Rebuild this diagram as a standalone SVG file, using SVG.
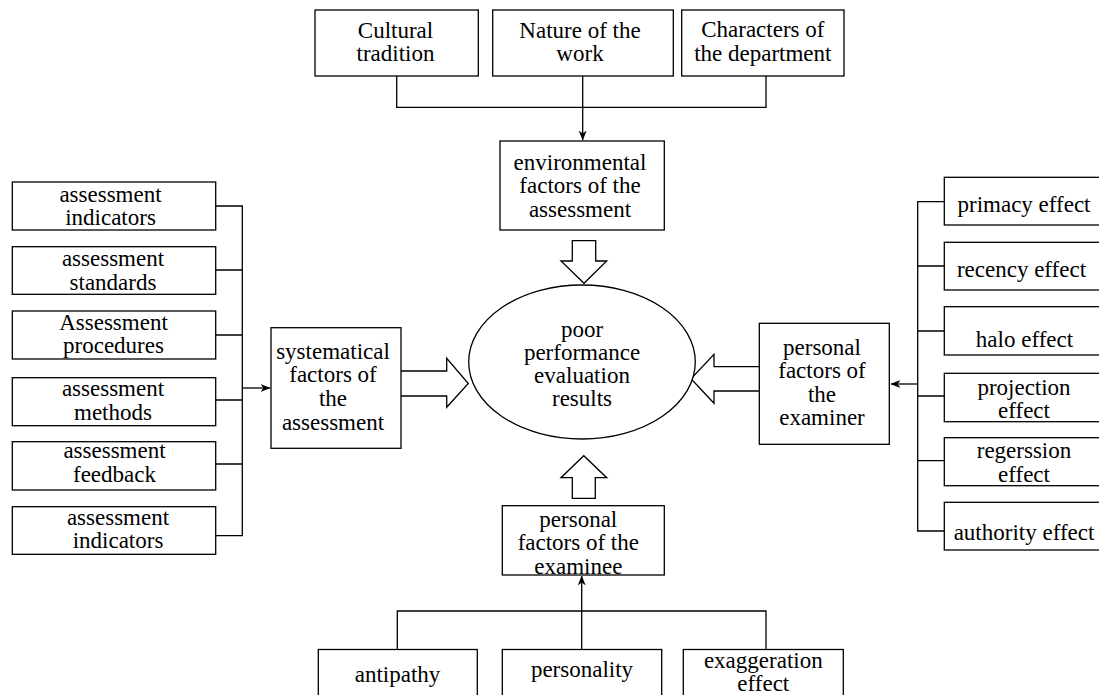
<svg xmlns="http://www.w3.org/2000/svg" width="1099" height="695" viewBox="0 0 1099 695">
<style>
.box{fill:#fff;stroke:#000;stroke-width:1.3}
.ln{fill:none;stroke:#000;stroke-width:1.3}
.blk{fill:#fff;stroke:#000;stroke-width:1.3;stroke-linejoin:miter}
text{font-family:"Liberation Serif","Times New Roman",serif;font-size:23px;fill:#000;text-anchor:middle}
</style>
<defs>
<marker id="ah" viewBox="0 0 10 8" refX="9.5" refY="4" markerWidth="10" markerHeight="8" markerUnits="userSpaceOnUse" orient="auto">
<path d="M0,0 L10,4 L0,8 L3,4 z" fill="#000"/>
</marker>
</defs>
<rect width="1099" height="695" fill="#fff"/>

<g id="connectors">
<path class="ln" d="M396.7,76 V107.3 H766 V76"/>
<path class="ln" d="M582.7,76 V140" marker-end="url(#ah)"/>
<path class="ln" d="M397.3,649.5 V611 H766 V649.5"/>
<path class="ln" d="M581.7,649.5 V576" marker-end="url(#ah)"/>
<path class="ln" d="M215.7,206 H242.3 V535.7 H215.7 M215.7,270 H242.3 M215.7,335 H242.3 M215.7,400 H242.3 M215.7,464 H242.3"/>
<path class="ln" d="M242.3,388 H270" marker-end="url(#ah)"/>
<path class="ln" d="M944.3,201.7 H917.7 V531 H944.3 M944.3,266 H917.7 M944.3,331 H917.7 M944.3,396 H917.7 M944.3,460.7 H917.7"/>
<path class="ln" d="M917.7,384 H891" marker-end="url(#ah)"/>
<path class="blk" d="M401,371 H446.7 V358.3 L468.3,383.5 L446.7,407.3 V396 H401"/>
<path class="blk" d="M759.3,366.7 H714 V354.3 L691,378.8 L714,403.3 V391 H759.3"/>
<path class="blk" d="M572.3,240.7 H595.7 V261 H606.7 L584,283.3 L561,261 H572.3 Z"/>
<path class="blk" d="M572.3,498.3 V477.7 H561 L583.8,455.7 L606.7,477.7 H595.3 V498.3 Z"/>
</g>

<g id="center">
<ellipse class="box" cx="582" cy="362" rx="113.3" ry="77"/>
<text x="582" y="336.5">poor<tspan x="582" dy="23.3">performance</tspan><tspan x="582" dy="23.3">evaluation</tspan><tspan x="582" dy="23.3">results</tspan></text>
</g>

<g id="env">
<rect class="box" x="500" y="141" width="164.3" height="89"/>
<text x="580" y="170">environmental<tspan x="580" dy="23.3">factors of the</tspan><tspan x="580" dy="23.4">assessment</tspan></text>
</g>
<g id="cultural">
<rect class="box" x="315" y="10" width="163.3" height="66"/>
<text x="395.5" y="37.7">Cultural<tspan x="395.5" dy="23.3">tradition</tspan></text>
</g>
<g id="nature">
<rect class="box" x="492.7" y="10" width="180.6" height="66"/>
<text x="580" y="37.7">Nature of the<tspan x="580" dy="23.3">work</tspan></text>
</g>
<g id="characters">
<rect class="box" x="681.7" y="10" width="162.3" height="66"/>
<text x="762.8" y="36.7">Characters of<tspan x="762.8" dy="24.3">the department</tspan></text>
</g>

<g id="examinee">
<rect class="box" x="502.3" y="505.7" width="162" height="69.3"/>
<text x="578.3" y="527">personal<tspan x="578.3" dy="23.3">factors of the</tspan><tspan x="578.3" dy="23.3">examinee</tspan></text>
</g>
<g id="antipathy">
<rect class="box" x="318.3" y="649.5" width="159" height="60"/>
<text x="397.5" y="682">antipathy</text>
</g>
<g id="personality">
<rect class="box" x="502.3" y="649.5" width="159.4" height="60"/>
<text x="582" y="677">personality</text>
</g>
<g id="exaggeration">
<rect class="box" x="683.3" y="649.5" width="160" height="60"/>
<text x="763.3" y="668">exaggeration<tspan x="763.3" dy="23.3">effect</tspan></text>
</g>

<g id="systematical">
<rect class="box" x="271" y="327.7" width="130" height="120.6"/>
<text x="333" y="359">systematical<tspan x="333" dy="23.3">factors of</tspan><tspan x="333" dy="23.3">the</tspan><tspan x="333" dy="24">assessment</tspan></text>
</g>
<g id="l1">
<rect class="box" x="12.3" y="182" width="203.4" height="48"/>
<text x="110.5" y="201.5">assessment<tspan x="110.5" dy="23.3">indicators</tspan></text>
</g>
<g id="l2">
<rect class="box" x="12.3" y="246.7" width="203.4" height="47.6"/>
<text x="113" y="266.3">assessment<tspan x="113" dy="23.3">standards</tspan></text>
</g>
<g id="l3">
<rect class="box" x="12.3" y="311" width="203.4" height="48"/>
<text x="113.5" y="329.5">Assessment<tspan x="113.5" dy="23.3">procedures</tspan></text>
</g>
<g id="l4">
<rect class="box" x="12.3" y="377.7" width="203.4" height="48"/>
<text x="113" y="396.3">assessment<tspan x="113" dy="23.3">methods</tspan></text>
</g>
<g id="l5">
<rect class="box" x="12.3" y="441.7" width="203.4" height="48.3"/>
<text x="114.5" y="458.3">assessment<tspan x="114.5" dy="23.4">feedback</tspan></text>
</g>
<g id="l6">
<rect class="box" x="12.3" y="506.7" width="203.4" height="47.6"/>
<text x="118" y="525">assessment<tspan x="118" dy="23.3">indicators</tspan></text>
</g>

<g id="examiner">
<rect class="box" x="759.3" y="323.3" width="130" height="121"/>
<text x="822" y="354.7">personal<tspan x="822" dy="23.3">factors of</tspan><tspan x="822" dy="23.7">the</tspan><tspan x="822" dy="23.3">examiner</tspan></text>
</g>
<g id="r1">
<rect class="box" x="944.3" y="177.3" width="160" height="47.7"/>
<text x="1024" y="211.7">primacy effect</text>
</g>
<g id="r2">
<rect class="box" x="944.3" y="242.3" width="160" height="47.7"/>
<text x="1021.5" y="276.7">recency effect</text>
</g>
<g id="r3">
<rect class="box" x="944.3" y="306.7" width="160" height="48.3"/>
<text x="1024.5" y="346.7">halo effect</text>
</g>
<g id="r4">
<rect class="box" x="944.3" y="373.3" width="160" height="48.4"/>
<text x="1024" y="395">projection<tspan x="1024" dy="23.3">effect</tspan></text>
</g>
<g id="r5">
<rect class="box" x="944.3" y="437.7" width="160" height="48"/>
<text x="1024" y="458.3">regerssion<tspan x="1024" dy="23.4">effect</tspan></text>
</g>
<g id="r6">
<rect class="box" x="944.3" y="502.3" width="160" height="47.7"/>
<text x="1024" y="540">authority effect</text>
</g>
</svg>
